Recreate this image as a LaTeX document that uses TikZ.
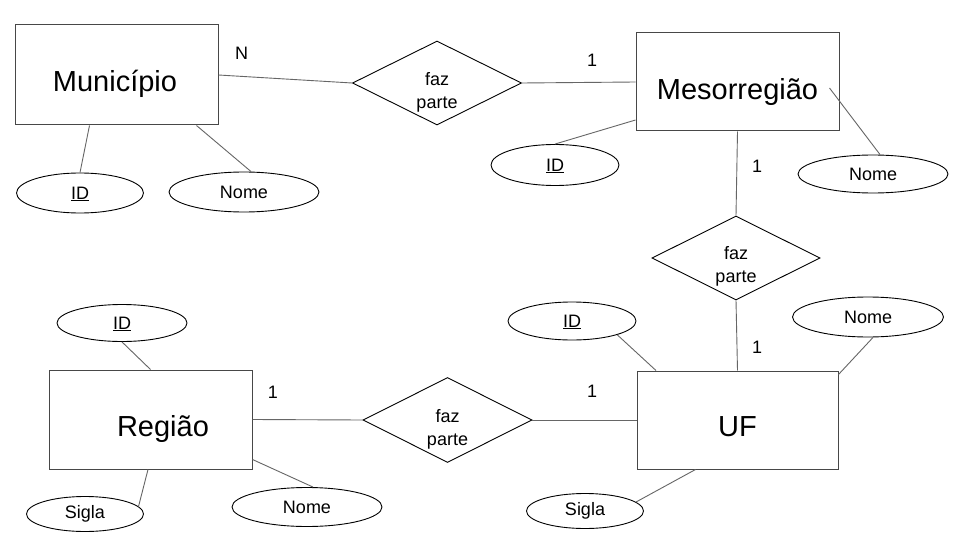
\documentclass[tikz,border=0pt]{standalone}
\usepackage{fontspec}
\setmainfont{Liberation Sans}
\usetikzlibrary{shapes.geometric}
\begin{document}
\begin{tikzpicture}[x=1pt,y=-1pt,
  entity/.style={draw=black!72, line width=1pt, rectangle, inner sep=0pt},
  attr/.style={draw=black, line width=0.9pt, ellipse, inner sep=0pt, font=\fontsize{18}{22}\selectfont},
  rel/.style={draw=black, line width=0.9pt, diamond, inner sep=0pt},
  reltext/.style={align=center, font=\fontsize{18}{23}\selectfont, inner sep=0pt},
  bigtext/.style={font=\fontsize{29}{33}\selectfont, anchor=base, inner sep=0pt},
  card/.style={font=\fontsize{18}{22}\selectfont, inner sep=0pt},
  conn/.style={draw=black!60, line width=0.9pt}]

\useasboundingbox (0,0) rectangle (960,540);
\fill[white] (0,0) rectangle (960,540);

% entities
\node[entity, minimum width=203pt, minimum height=100pt] (mun) at (116.5,75) {};
\node[entity, minimum width=203pt, minimum height=98pt] (meso) at (737.5,82) {};
\node[entity, minimum width=203pt, minimum height=99pt] (reg) at (150.5,419.5) {};
\node[entity, minimum width=201pt, minimum height=98pt] (uf) at (737.5,420) {};

\node[bigtext] (munt) at (115,91.7) {Município};
\node[bigtext] (mesot) at (737.5,99.3) {Mesorregião};
\node[bigtext] (regt) at (163,436.7) {Região};
\node[bigtext] (uft) at (737.5,436) {UF};

% relationships
\node[rel, minimum width=169pt, minimum height=84pt] (d1) at (437,83) {};
\node[rel, minimum width=168pt, minimum height=84pt] (d2) at (736,258) {};
\node[rel, minimum width=169pt, minimum height=85pt] (d3) at (447.5,420) {};
\node[reltext] (d1t) at (437,92) {faz\\parte};
\node[reltext] (d2t) at (736,266) {faz\\parte};
\node[reltext] (d3t) at (447.5,429) {faz\\parte};

% attributes
\node[attr, text depth=0pt, minimum width=127pt, minimum height=40pt] (munid) at (80,193) {\underline{ID}};
\node[attr, minimum width=150pt, minimum height=40pt] (munnome) at (244,192) {Nome};
\node[attr, text depth=0pt, minimum width=128pt, minimum height=41pt] (mesoid) at (555,165) {\underline{ID}};
\node[attr, minimum width=150pt, minimum height=38pt] (mesonome) at (873,174) {Nome};
\node[attr, text depth=0pt, minimum width=128pt, minimum height=38pt] (ufid) at (572,321) {\underline{ID}};
\node[attr, minimum width=151pt, minimum height=40pt] (ufnome) at (868,317) {Nome};
\node[attr, minimum width=117pt, minimum height=35pt] (ufsigla) at (585,511) {Sigla};
\node[attr, text depth=0pt, minimum width=130pt, minimum height=37pt] (regid) at (122,323) {\underline{ID}};
\node[attr, minimum width=117pt, minimum height=35pt] (regsigla) at (85,514) {Sigla};
\node[attr, minimum width=150pt, minimum height=39pt] (regnome) at (307,507) {Nome};

% cardinalities
\node[card] (cN) at (241.5,53) {N};
\node[card] (c1) at (592,60.5) {1};
\node[card] (c2) at (757,166) {1};
\node[card] (c3) at (757,347) {1};
\node[card] (c4) at (592,391) {1};
\node[card] (c5) at (273,392) {1};

% connectors
\draw[conn] (mun.east) -- (d1.west);
\draw[conn] (d1.east) -- (meso.west);
\draw[conn] (meso.south) -- (d2.north);
\draw[conn] (d2.south) -- (uf.north);
\draw[conn] (d3.east) -- (uf.west);
\draw[conn] (reg.east) -- (d3.west);

\draw[conn] ([xshift=-27pt]mun.south) -- (munid.north);
\draw[conn] ([xshift=80pt]mun.south) -- ([xshift=7pt]munnome.north);
\draw[conn] ([yshift=-38pt]meso.west) -- (mesoid.north);
\draw[conn] ([xshift=92pt,yshift=-6pt]meso.center) -- ([xshift=7pt]mesonome.north);
\draw[conn] (ufid.-17) -- ([xshift=-81.5pt]uf.north);
\draw[conn] ([xshift=5pt]ufnome.south) -- ([yshift=-4pt]uf.north east);
\draw[conn] (ufsigla.10) -- ([xshift=-42pt]uf.south);
\draw[conn] (regid.south) -- (reg.north);
\draw[conn] (regsigla.8) -- ([xshift=-2.5pt]reg.south);
\draw[conn] ([xshift=6pt]regnome.north) -- ([yshift=-40pt]reg.east);
\end{tikzpicture}
\end{document}
